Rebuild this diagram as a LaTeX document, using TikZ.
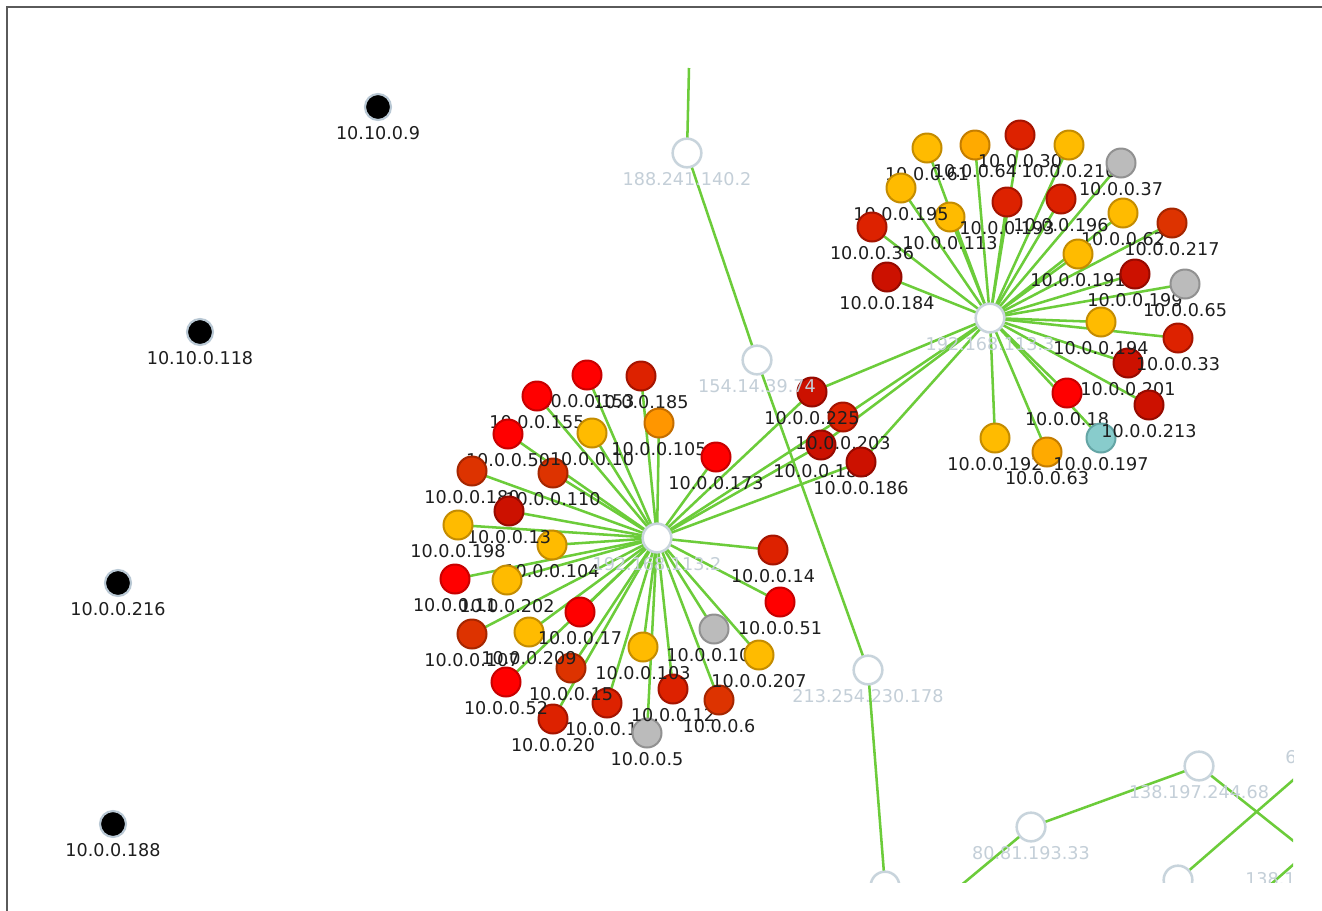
\documentclass[tikz,border=0pt]{standalone}
\usepackage{fontspec}
\setmainfont{DejaVu Sans}
\pgfdeclarelayer{paper}
\pgfdeclarelayer{edges}
\pgfsetlayers{paper,edges,main}
\definecolor{edgec}{RGB}{108,204,58}
\definecolor{hubline}{RGB}{200,212,220}
\definecolor{hubtext}{RGB}{196,207,216}
\definecolor{lbltext}{RGB}{30,30,30}
\definecolor{halo}{RGB}{185,200,212}
\definecolor{framec}{RGB}{90,90,90}
\definecolor{cbr}{RGB}{255,0,0}\definecolor{cbrd}{RGB}{200,0,0}
\definecolor{cred}{RGB}{221,34,0}\definecolor{credd}{RGB}{165,20,0}
\definecolor{cdr}{RGB}{204,17,0}\definecolor{cdrd}{RGB}{150,10,0}
\definecolor{cor}{RGB}{221,51,0}\definecolor{cord}{RGB}{165,38,0}
\definecolor{cyel}{RGB}{255,187,0}\definecolor{cyeld}{RGB}{196,140,0}
\definecolor{corg}{RGB}{255,170,0}\definecolor{corgd}{RGB}{196,125,0}
\definecolor{corg2}{RGB}{255,150,0}\definecolor{corg2d}{RGB}{196,110,0}
\definecolor{cgrey}{RGB}{187,187,187}\definecolor{cgreyd}{RGB}{145,145,145}
\definecolor{cteal}{RGB}{136,204,204}\definecolor{ctead}{RGB}{100,165,165}
\tikzset{
  leaf/.style={circle, inner sep=0pt, minimum size=21.75pt, line width=1.5pt},
  nbr/.style={leaf, fill=cbr, draw=cbrd},
  nred/.style={leaf, fill=cred, draw=credd},
  ndr/.style={leaf, fill=cdr, draw=cdrd},
  nor/.style={leaf, fill=cor, draw=cord},
  nyel/.style={leaf, fill=cyel, draw=cyeld},
  norg/.style={leaf, fill=corg, draw=corgd},
  norg2/.style={leaf, fill=corg2, draw=corg2d},
  ngrey/.style={leaf, fill=cgrey, draw=cgreyd},
  nteal/.style={leaf, fill=cteal, draw=ctead},
  hub/.style={circle, inner sep=0pt, minimum size=21.5pt, line width=1.9pt, draw=hubline, fill=white},
  blk/.style={circle, inner sep=0pt, minimum size=19.5pt, line width=1.6pt, draw=halo, fill=black},
  lbl/.style={anchor=base, font=\fontsize{13.2}{15}\selectfont, text=lbltext, inner sep=0pt},
  hlbl/.style={lbl, text=hubtext},
  link/.style={draw=edgec, line width=1.9pt},
}
\newcommand\leafnode[5]{%
  \node[#4] (#1) at (#2,#3) {};
  \node[lbl] (#1l) at ([yshift=-24pt]#1.center) {#5};}
\newcommand\hubnode[3]{\node[hub] (#1) at (#2,#3) {};}
\newcommand\hublabel[2]{\node[hlbl] (#1l) at ([yshift=-24pt]#1.center) {#2};}
\begin{document}
\begin{tikzpicture}[x=0.75pt,y=-0.75pt]
\useasboundingbox (0,0) rectangle (1322,911);
\begin{pgfonlayer}{paper}
\fill[white] (0,0) rectangle (1322,911);
\end{pgfonlayer}
\draw[framec, line width=1.5pt] (7,911) -- (7,7) -- (1322,7);
\begin{scope}
\clip (8,8) rectangle (1293,882);
% black isolated nodes
\leafnode{b9}{378}{107}{blk}{10.10.0.9}
\leafnode{b118}{200}{332}{blk}{10.10.0.118}
\leafnode{b216}{118}{583}{blk}{10.0.0.216}
\leafnode{b188}{113}{824}{blk}{10.0.0.188}
% white relay nodes
\hubnode{hA}{657}{538}
\hubnode{hB}{990}{318}
\hubnode{w188}{687}{153}
\hubnode{w154}{757}{360}
\hubnode{w213}{868}{670}
\hubnode{w80}{1031}{827}
\hubnode{w138}{1199}{766}
\hubnode{wbot}{885}{886}
\hubnode{wbr}{1178}{880}
\coordinate (ctop) at (689,68);
\coordinate (c80) at (941,902);
\coordinate (c138) at (1330,870);
\coordinate (cbr) at (1330,748);
\coordinate (cs1) at (1262,892);
\coordinate (cs2) at (1310,850);
% right cluster
\leafnode{r61}{927}{148}{nyel}{10.0.0.61}
\leafnode{r64}{975}{145}{norg}{10.0.0.64}
\leafnode{r30}{1020}{135}{nred}{10.0.0.30}
\leafnode{r21}{1069}{145}{nyel}{10.0.0.210}
\leafnode{r37}{1121}{163}{ngrey}{10.0.0.37}
\leafnode{r113}{950}{217}{nyel}{10.0.0.113}
\leafnode{r195}{901}{188}{nyel}{10.0.0.195}
\leafnode{r36}{872}{227}{nred}{10.0.0.36}
\leafnode{r193}{1007}{202}{nred}{10.0.0.193}
\leafnode{r196}{1061}{199}{nred}{10.0.0.196}
\leafnode{r62}{1123}{213}{nyel}{10.0.0.62}
\leafnode{r217}{1172}{223}{nor}{10.0.0.217}
\leafnode{r184}{887}{277}{ndr}{10.0.0.184}
\leafnode{r191}{1078}{254}{nyel}{10.0.0.191}
\leafnode{r199}{1135}{274}{ndr}{10.0.0.199}
\leafnode{r65}{1185}{284}{ngrey}{10.0.0.65}
\leafnode{r201}{1128}{363}{ndr}{10.0.0.201}
\leafnode{r194}{1101}{322}{nyel}{10.0.0.194}
\leafnode{r33}{1178}{338}{nred}{10.0.0.33}
\leafnode{r18}{1067}{393}{nbr}{10.0.0.18}
\leafnode{r192}{995}{438}{nyel}{10.0.0.192}
\leafnode{r63}{1047}{452}{norg}{10.0.0.63}
\leafnode{r197}{1101}{438}{nteal}{10.0.0.197}
\leafnode{r213}{1149}{405}{ndr}{10.0.0.213}
% left cluster
\leafnode{l153}{587}{375}{nbr}{10.0.0.153}
\leafnode{l185}{641}{376}{nred}{10.0.0.185}
\leafnode{l155}{537}{396}{nbr}{10.0.0.155}
\leafnode{l105}{659}{423}{norg2}{10.0.0.105}
\leafnode{l110}{553}{473}{nor}{10.0.0.110}
\leafnode{l10}{592}{433}{nyel}{10.0.0.10}
\leafnode{l50}{508}{434}{nbr}{10.0.0.50}
\leafnode{l173}{716}{457}{nbr}{10.0.0.173}
\leafnode{l180}{472}{471}{nor}{10.0.0.180}
\leafnode{l104}{552}{545}{nyel}{10.0.0.104}
\leafnode{l13}{509}{511}{ndr}{10.0.0.13}
\leafnode{l198}{458}{525}{nyel}{10.0.0.198}
\leafnode{l11}{455}{579}{nbr}{10.0.0.11}
\leafnode{l202}{507}{580}{nyel}{10.0.0.202}
\leafnode{l107}{472}{634}{nor}{10.0.0.107}
\leafnode{l16}{607}{703}{nred}{10.0.0.16}
\leafnode{l15}{571}{668}{nor}{10.0.0.15}
\leafnode{l209}{529}{632}{nyel}{10.0.0.209}
\leafnode{l17}{580}{612}{nbr}{10.0.0.17}
\leafnode{l20}{553}{719}{nred}{10.0.0.20}
\leafnode{l52}{506}{682}{nbr}{10.0.0.52}
\leafnode{l5}{647}{733}{ngrey}{10.0.0.5}
\leafnode{l12}{673}{689}{nred}{10.0.0.12}
\leafnode{l103}{643}{647}{nyel}{10.0.0.103}
\leafnode{l6}{719}{700}{nor}{10.0.0.6}
\leafnode{l100}{714}{629}{ngrey}{10.0.0.100}
\leafnode{l207}{759}{655}{nyel}{10.0.0.207}
\leafnode{l14}{773}{550}{nred}{10.0.0.14}
\leafnode{l51}{780}{602}{nbr}{10.0.0.51}
% shared nodes
\leafnode{h181}{821}{445}{ndr}{10.0.0.181}
\leafnode{h203}{843}{417}{nred}{10.0.0.203}
\leafnode{h225}{812}{392}{ndr}{10.0.0.225}
\leafnode{h186}{861}{462}{ndr}{10.0.0.186}
% relay labels
\hublabel{hA}{192.168.113.2}
\hublabel{hB}{192.168.113.3}
\hublabel{w188}{188.241.140.2}
\hublabel{w154}{154.14.39.74}
\hublabel{w213}{213.254.230.178}
\hublabel{w80}{80.81.193.33}
\hublabel{w138}{138.197.244.68}
\node[hlbl, anchor=base west] (t6) at (1285,763) {6};
\node[hlbl, anchor=base west] (t138) at (1245,885) {138.1};
\end{scope}
\begin{pgfonlayer}{edges}
\begin{scope}
\clip (8,8) rectangle (1293,882);
\foreach \n in {r61,r64,r30,r21,r37,r195,r36,r113,r193,r196,r62,r217,r184,r191,r199,r65,r201,r194,r33,r18,r192,r63,r197,r213,h181,h203,h225,h186}
  \draw[link] (hB.center) -- (\n.center);
\foreach \n in {l153,l185,l155,l105,l110,l10,l50,l173,l180,l104,l13,l198,l11,l202,l107,l16,l15,l209,l17,l20,l52,l5,l12,l103,l6,l100,l207,l14,l51,h181,h203,h225,h186}
  \draw[link] (hA.center) -- (\n.center);
\draw[link] (ctop) -- (w188.center);
\draw[link] (w188.center) -- (w154.center);
\draw[link] (w154.center) -- (w213.center);
\draw[link] (w213.center) -- (wbot.center);
\draw[link] (c80) -- (w80.center);
\draw[link] (w80.center) -- (w138.center);
\draw[link] (w138.center) -- (c138);
\draw[link] (wbr.center) -- (cbr);
\draw[link] (cs1) -- (cs2);
\end{scope}
\end{pgfonlayer}
\end{tikzpicture}
\end{document}
